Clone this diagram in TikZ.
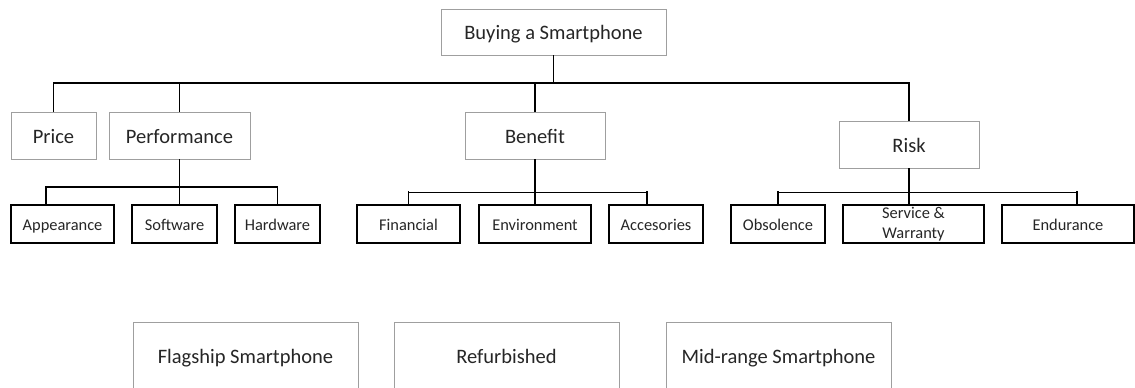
\documentclass[tikz,border=0pt]{standalone}
\usepackage{xcolor}
\usepackage{fontspec}
\setmainfont{Carlito}
\usepackage{tikz}

\begin{document}
\begin{tikzpicture}[x=1pt,y=-1pt,
	bigbox/.style={draw=gray!75,line width=0.7pt,fill=white,inner sep=0pt,text height=17pt,text depth=2pt,text=black!85,font=\fontsize{20.5}{24}\selectfont},
	smallbase/.style={draw=black,line width=1.4pt,fill=white,inner sep=0pt,minimum height=38pt,text=black!85,font=\fontsize{16.4}{19.5}\selectfont},
	smallbox/.style={smallbase,text height=13.5pt,text depth=1.5pt},
	link/.style={line width=1.3pt},
	thinlink/.style={line width=0.7pt}]
	\useasboundingbox (0,0) rectangle (1135,388);

	\node[bigbox,minimum width=225pt,minimum height=46pt] (buy) at (553.5,32) {Buying a Smartphone};

	\node[bigbox,minimum width=85pt,minimum height=47pt] (price) at (53.5,135.5) {Price};
	\node[bigbox,minimum width=141pt,minimum height=47pt] (perf) at (179.5,135.5) {Performance};
	\node[bigbox,minimum width=140pt,minimum height=47pt] (ben) at (535,135.5) {Benefit};
	\node[bigbox,minimum width=140pt,minimum height=47pt] (risk) at (909,144.5) {Risk};

	\node[smallbox,minimum width=103pt] (app) at (62.5,224) {Appearance};
	\node[smallbox,minimum width=85pt] (soft) at (174.5,224) {Software};
	\node[smallbox,minimum width=85pt] (hard) at (277.5,224) {Hardware};
	\node[smallbox,minimum width=103pt] (fin) at (408.5,224) {Financial};
	\node[smallbox,minimum width=112pt] (env) at (535,224) {Environment};
	\node[smallbox,minimum width=94pt] (acc) at (656,224) {Accesories};
	\node[smallbox,minimum width=94pt] (obs) at (778,224) {Obsolence};
	\node[smallbase,minimum width=141pt,align=center] (serv) at (913.5,224) {Service \&\\Warranty};
	\node[smallbox,minimum width=132pt] (endur) at (1068,224) {Endurance};

	\node[bigbox,minimum width=225pt,minimum height=67pt] (flag) at (245.5,355.5) {Flagship Smartphone};
	\node[bigbox,minimum width=225pt,minimum height=67pt] (refurb) at (506.5,355.5) {Refurbished};
	\node[bigbox,minimum width=225pt,minimum height=67pt] (mid) at (778.5,355.5) {Mid-range Smartphone};

	% main bar
	\coordinate (mainbar) at (0,83);
	\draw[link] (buy.south) -- (buy.south |- mainbar);
	\draw[link] (price.north) |- (mainbar -| risk.north) -- (risk.north);
	\draw[link] (perf.north) -- (perf.north |- mainbar);
	\draw[link] (ben.north) -- (ben.north |- mainbar);

	\coordinate (pbar) at (46,187);
	\draw[link] (perf.south) -- (soft.north -| perf.south);
	\draw[link] (app.north -| pbar) -- (pbar) -- (pbar -| hard.north) -- (hard.north);

	\coordinate (bbar) at (647,192);
	\draw[link] (ben.south) -- (env.north -| ben.south);
	\draw[thinlink] (fin.north |- bbar) -- (bbar);
	\draw[link] (fin.north) -- ++(0,-13);
	\draw[link] (acc.north -| bbar) -- ++(0,-13);

	\coordinate (rbar) at (1077,192);
	\draw[link] (risk.south) -- (serv.north -| risk.south);
	\draw[thinlink] (obs.north |- rbar) -- (rbar);
	\draw[link] (obs.north) -- ++(0,-13);
	\draw[link] (endur.north -| rbar) -- ++(0,-13);
\end{tikzpicture}
\end{document}
